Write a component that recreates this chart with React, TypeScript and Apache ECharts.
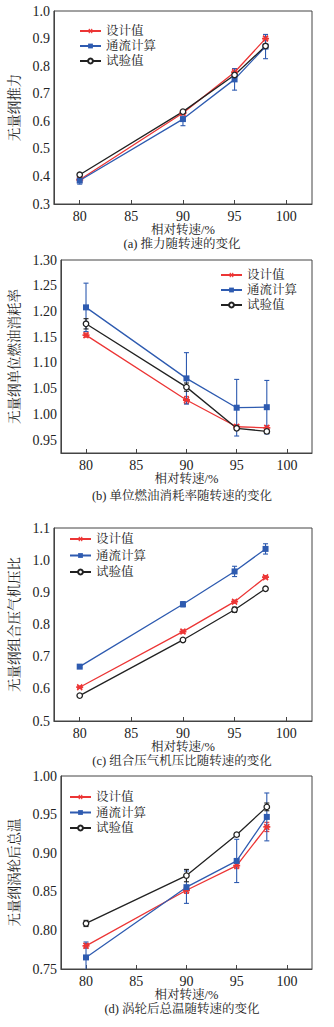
import React, { useEffect, useRef } from "react";
import * as echarts from "echarts";

const speed = [80, 90, 95, 98];
const xTicks = [80, 85, 90, 95, 100];
const seriesNames = ["设计值", "通流计算", "试验值"];

const aDesign = [0.388, 0.630, 0.778, 0.900];
const aFlow = [0.385, 0.608, 0.752, 0.871];
const aTest = [0.406, 0.635, 0.768, 0.873];
const aDesignErr = [0.005, 0.006, 0.012, 0.008];
const aFlowErr = [0.013, 0.024, 0.039, 0.044];
const aTestErr = [0.004, 0.004, 0.005, 0.005];

const bDesign = [1.154, 1.028, 0.976, 0.974];
const bFlow = [1.208, 1.070, 1.013, 1.014];
const bTest = [1.176, 1.053, 0.973, 0.967];
const bDesignErr = [0.004, 0.007, 0.004, 0.004];
const bFlowErr = [0.047, 0.050, 0.055, 0.052];
const bTestErr = [0.010, 0.008, 0.003, 0.004];

const cDesign = [0.605, 0.778, 0.871, 0.947];
const cFlow = [0.669, 0.863, 0.965, 1.035];
const cTest = [0.579, 0.752, 0.846, 0.911];
const cDesignErr = [0.004, 0.005, 0.005, 0.005];
const cFlowErr = [0.003, 0.008, 0.016, 0.016];
const cTestErr = [0.003, 0.003, 0.008, 0.004];

const dDesign = [0.780, 0.852, 0.884, 0.934];
const dFlow = [0.765, 0.856, 0.890, 0.947];
const dTest = [0.809, 0.871, 0.924, 0.960];
const dDesignErr = [0.003, 0.004, 0.004, 0.006];
const dFlowErr = [0.020, 0.021, 0.028, 0.031];
const dTestErr = [0.004, 0.008, 0.002, 0.005];

const yNames = ["无量纲推力", "无量纲单位燃油消耗率", "无量纲组合压气机压比", "无量纲涡轮后总温"];
const captions = ["(a) 推力随转速的变化", "(b) 单位燃油消耗率随转速的变化", "(c) 组合压气机压比随转速的变化", "(d) 涡轮后总温随转速的变化"];
const xName = "相对转速/%";

const RED = "#ec3535";
const BLUE = "#2e5bb0";
const BLACK = "#222222";
const FONT = "'Liberation Serif', 'Times New Roman', 'Noto Serif CJK SC', 'Noto Sans CJK SC', serif";

function asteriskPath(): string {
  const parts: string[] = [];
  const L = 10, w = 2.2;
  [0, 45, 135].forEach((deg) => {
    const t = (deg * Math.PI) / 180;
    const dx = Math.cos(t), dy = Math.sin(t);
    const nx = -dy, ny = dx;
    const p = (s: number, q: number) =>
      `${(5 + dx * s * L / 2 + nx * q * w / 2).toFixed(3)} ${(5 + dy * s * L / 2 + ny * q * w / 2).toFixed(3)}`;
    parts.push(`M${p(-1, -1)} L${p(1, -1)} L${p(1, 1)} L${p(-1, 1)} Z`);
  });
  return "path://" + parts.join(" ");
}

const panels = [
  { top: 11, min: 0.3, max: 1.0, interval: 0.1, step: 0.1, dec: 1, data: [aDesign, aFlow, aTest], err: [aDesignErr, aFlowErr, aTestErr], legend: { left: 79, top: 24, gap: 1 }, nameGapX: 18, caption: 244 },
  { top: 260, min: 0.925, max: 1.3, interval: 0.025, step: 0.05, dec: 2, data: [bDesign, bFlow, bTest], err: [bDesignErr, bFlowErr, bTestErr], legend: { left: 220, top: 268, gap: 1 }, nameGapX: 19, caption: 496 },
  { top: 528, min: 0.5, max: 1.1, interval: 0.1, step: 0.1, dec: 1, data: [cDesign, cFlow, cTest], err: [cDesignErr, cFlowErr, cTestErr], legend: { left: 69, top: 532, gap: 2.5 }, nameGapX: 17, caption: 761 },
  { top: 776, min: 0.75, max: 1.0, interval: 0.05, step: 0.05, dec: 2, data: [dDesign, dFlow, dTest], err: [dDesignErr, dFlowErr, dTestErr], legend: { left: 69, top: 790, gap: 1.5 }, nameGapX: 17, caption: 1009 },
];

export default function App() {
  const ref = useRef<HTMLDivElement>(null);
  useEffect(() => {
    if (!ref.current) return;
    const chart = echarts.init(ref.current, undefined, { renderer: "svg" });
    const star = asteriskPath();
    const colors = [RED, BLUE, BLACK];
    const grids: any[] = [];
    const xAxes: any[] = [];
    const yAxes: any[] = [];
    const legends: any[] = [];
    const series: any[] = [];
    const graphics: any[] = [];

    panels.forEach((p, gi) => {
      grids.push({ left: 53, top: p.top, width: 259, height: 193, show: true, borderColor: "#444", borderWidth: 1, backgroundColor: "transparent" });
      xAxes.push({
        type: "value", gridIndex: gi, min: 77.5, max: 102.5,
        name: xName, nameLocation: "middle", nameGap: p.nameGapX,
        nameTextStyle: { fontFamily: FONT, fontSize: 12.5, lineHeight: 13, color: "#222" },
        axisLine: { show: true, lineStyle: { color: "#444", width: 1 } },
        axisTick: { show: true, inside: true, length: 4, customValues: xTicks, lineStyle: { color: "#444" } },
        axisLabel: { customValues: xTicks, fontFamily: FONT, fontSize: 14, color: "#222", margin: 5 },
        splitLine: { show: false },
      });
      yAxes.push({
        type: "value", gridIndex: gi, min: p.min, max: p.max, interval: p.interval,
        name: yNames[gi], nameLocation: "middle", nameGap: 23, nameRotate: 90,
        nameTextStyle: { fontFamily: FONT, fontSize: 13.5, color: "#222" },
        axisLine: { show: true, lineStyle: { color: "#444", width: 1 } },
        axisTick: { show: false },
        axisLabel: {
          fontFamily: FONT, fontSize: 14, color: "#222", margin: 4, showMinLabel: true, showMaxLabel: true,
          formatter: (v: number) => {
            const k = v / p.step;
            if (Math.abs(k - Math.round(k)) > 1e-6) return "";
            return v.toFixed(p.dec);
          },
        },
        splitLine: { show: false },
      });
      legends.push({
        data: seriesNames, orient: "vertical", left: p.legend.left, top: p.legend.top,
        itemWidth: 21, itemHeight: 6, itemGap: p.legend.gap + 0, padding: 0,
        textStyle: { fontFamily: FONT, fontSize: 12.5, color: "#222", lineHeight: 14 },
      });
      p.data.forEach((vals, si) => {
        const color = colors[si];
        const errs = p.err[si];
        series.push({
          type: "custom", name: "err" + gi + si, xAxisIndex: gi, yAxisIndex: gi, clip: true, z: 2,
          data: speed.map((x, i) => [x, vals[i] - errs[i], vals[i] + errs[i]]),
          renderItem: (params: any, api: any) => {
            const x = api.value(0);
            const lo = api.coord([x, api.value(1)]);
            const hi = api.coord([x, api.value(2)]);
            const hw = 2.5;
            const style = { stroke: color, lineWidth: 1.1 };
            return {
              type: "group",
              children: [
                { type: "line", shape: { x1: lo[0], y1: lo[1], x2: hi[0], y2: hi[1] }, style },
                { type: "line", shape: { x1: lo[0] - hw, y1: lo[1], x2: lo[0] + hw, y2: lo[1] }, style },
                { type: "line", shape: { x1: hi[0] - hw, y1: hi[1], x2: hi[0] + hw, y2: hi[1] }, style },
              ],
            };
          },
        });
        const base: any = {
          type: "line", name: seriesNames[si], xAxisIndex: gi, yAxisIndex: gi, z: 3,
          data: speed.map((x, i) => [x, vals[i]]),
          lineStyle: { color, width: 1.3 },
        };
        if (si === 0) {
          base.symbol = star; base.symbolSize = 7;
          base.itemStyle = { color: RED };
        } else if (si === 1) {
          base.symbol = "rect"; base.symbolSize = 6;
          base.itemStyle = { color: BLUE };
        } else {
          base.symbol = "circle"; base.symbolSize = 5.5;
          base.itemStyle = { color: "#fff", borderColor: BLACK, borderWidth: 1.3 };
        }
        series.push(base);
      });
      graphics.push({
        type: "text", x: 182, y: p.caption,
        style: { text: captions[gi], fontFamily: FONT, fontSize: 12.5, lineHeight: 13, fill: "#222", textAlign: "center", textVerticalAlign: "middle" },
      });
    });

    chart.setOption({
      animation: false,
      backgroundColor: "#ffffff",
      grid: grids,
      xAxis: xAxes,
      yAxis: yAxes,
      legend: legends,
      series,
      graphic: graphics,
    });
    return () => chart.dispose();
  }, []);
  return <div ref={ref} style={{ position: "absolute", left: 0, top: 0, width: 334, height: 1027 }} />;
}
